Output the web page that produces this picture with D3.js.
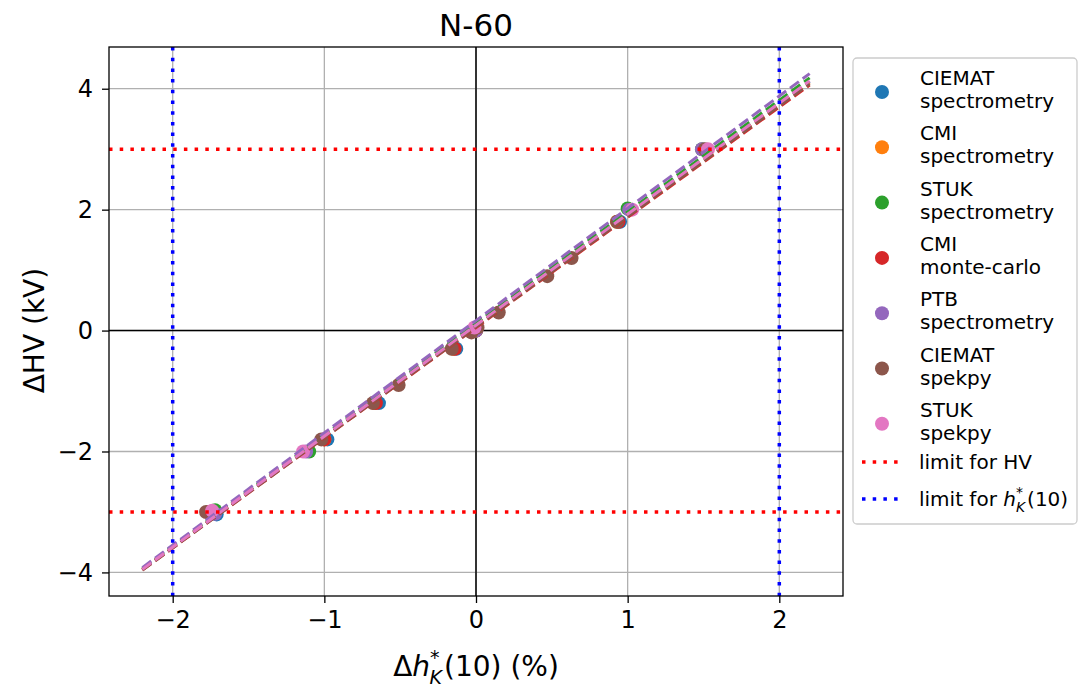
<!DOCTYPE html>
<html>
<head>
<meta charset="utf-8">
<script src="https://cdn.jsdelivr.net/npm/d3@7"></script>
<style>
  body { margin: 0; background: white; }
  text { font-family: "DejaVu Sans", sans-serif; fill: #000; }
</style>
</head>
<body>
<svg id="chart" width="1083" height="688"></svg>
<script>
// series names and colours
var seriesNames = [["CIEMAT", "spectrometry"], ["CMI", "spectrometry"], ["STUK", "spectrometry"],
                   ["CMI", "monte-carlo"], ["PTB", "spectrometry"], ["CIEMAT", "spekpy"], ["STUK", "spekpy"]];
var seriesColors = ["#1f77b4", "#ff7f0e", "#2ca02c", "#d62728", "#9467bd", "#8c564b", "#e377c2"];

// measured points: x = delta h*K(10) (%), y = delta HV (kV)
var ciematSpecX = [-1.71, -0.98, -0.64, -0.13, 0.0, 0.95];
var ciematSpecY = [-3.04, -1.8, -1.2, -0.3, 0.0, 1.8];
var cmiSpecX = [-1.75, -1.0, -0.67, -0.15, 0.0, 0.93];
var cmiSpecY = [-3.0, -1.8, -1.2, -0.3, 0.0, 1.8];
var stukSpecX = [-1.72, -1.1, 0.0, 1.0, 1.49];
var stukSpecY = [-2.97, -2.0, 0.0, 2.02, 3.0];
var cmiMcX = [-1.76, -1.0, -0.66, -0.14, 0.0, 0.94];
var cmiMcY = [-3.0, -1.8, -1.2, -0.3, 0.0, 1.8];
var ptbSpecX = [-1.72, -1.12, 0.0, 1.01, 1.49];
var ptbSpecY = [-3.03, -2.0, 0.0, 2.0, 3.0];
var ciematSpekX = [-1.78, -1.02, -0.68, -0.51, -0.16, -0.03, 0.01, 0.15, 0.47, 0.63, 0.93, 1.51];
var ciematSpekY = [-3.0, -1.8, -1.2, -0.9, -0.3, -0.03, 0.05, 0.3, 0.9, 1.2, 1.8, 3.0];
var stukSpekX = [-1.74, -1.14, -0.01, 1.03, 1.53];
var stukSpekY = [-2.98, -2.0, 0.05, 2.0, 3.0];

var pointsX = [ciematSpecX, cmiSpecX, stukSpecX, cmiMcX, ptbSpecX, ciematSpekX, stukSpekX];
var pointsY = [ciematSpecY, cmiSpecY, stukSpecY, cmiMcY, ptbSpecY, ciematSpekY, stukSpekY];

// linear fits, value of delta HV at the ends of the fit range
var fitRange = [-2.2, 2.2];
var fitStart = [-3.95, -3.95, -3.94, -3.96, -3.92, -3.96, -3.95];
var fitEnd = [4.12, 4.1, 4.18, 4.06, 4.25, 4.08, 4.13];

// limits
var hvLimits = [-3, 3];
var doseLimits = [-2, 2];

var xTicks = [-2, -1, 0, 1, 2];
var yTicks = [-4, -2, 0, 2, 4];

var svg = d3.select("#chart");
var pLeft = 109, pRight = 843, pTop = 47, pBottom = 596;

var x = d3.scaleLinear().domain([-2.42, 2.42]).range([pLeft, pRight]);
var y = d3.scaleLinear().domain([-4.39, 4.69]).range([pBottom, pTop]);

var fmt = function(d) { return d < 0 ? "\u2212" + Math.abs(d) : d; };

var plot = svg.append("g");
plot.append("clipPath").attr("id", "clip")
  .append("rect").attr("x", pLeft).attr("y", pTop).attr("width", pRight - pLeft).attr("height", pBottom - pTop);

// grid
plot.append("g").selectAll("line").data(xTicks).join("line")
  .attr("x1", d => x(d)).attr("x2", d => x(d)).attr("y1", pTop).attr("y2", pBottom)
  .attr("stroke", "#b0b0b0").attr("stroke-width", 1.3);
plot.append("g").selectAll("line").data(yTicks).join("line")
  .attr("y1", d => y(d)).attr("y2", d => y(d)).attr("x1", pLeft).attr("x2", pRight)
  .attr("stroke", "#b0b0b0").attr("stroke-width", 1.3);

// zero lines
plot.append("line").attr("x1", x(0)).attr("x2", x(0)).attr("y1", pTop).attr("y2", pBottom)
  .attr("stroke", "#000").attr("stroke-width", 1.5);
plot.append("line").attr("y1", y(0)).attr("y2", y(0)).attr("x1", pLeft).attr("x2", pRight)
  .attr("stroke", "#000").attr("stroke-width", 1.5);

// scatter points
var body = plot.append("g").attr("clip-path", "url(#clip)");
seriesColors.forEach(function(c, i) {
  body.append("g").selectAll("circle").data(d3.range(pointsX[i].length)).join("circle")
    .attr("cx", j => x(pointsX[i][j])).attr("cy", j => y(pointsY[i][j]))
    .attr("r", 7).attr("fill", c);
});

// fit lines
var line = d3.line().x(d => x(d[0])).y(d => y(d[1]));
seriesColors.forEach(function(c, i) {
  body.append("path")
    .attr("d", line([[fitRange[0], fitStart[i]], [fitRange[1], fitEnd[i]]]))
    .attr("fill", "none").attr("stroke", c).attr("stroke-width", 3)
    .attr("stroke-dasharray", "11,4.8");
});

// limit lines
body.selectAll(".hv").data(hvLimits).join("line")
  .attr("x1", pLeft).attr("x2", pRight).attr("y1", d => y(d)).attr("y2", d => y(d))
  .attr("stroke", "#ff0000").attr("stroke-width", 3.5).attr("stroke-dasharray", "3.5,7.2");
body.selectAll(".dose").data(doseLimits).join("line")
  .attr("y1", pTop).attr("y2", pBottom).attr("x1", d => x(d)).attr("x2", d => x(d))
  .attr("stroke", "#0000ff").attr("stroke-width", 3.5).attr("stroke-dasharray", "3.5,7.2");

// frame
plot.append("rect").attr("x", pLeft).attr("y", pTop).attr("width", pRight - pLeft).attr("height", pBottom - pTop)
  .attr("fill", "none").attr("stroke", "#000").attr("stroke-width", 1.3);

// axes
var xAxis = svg.append("g").attr("transform", "translate(0," + pBottom + ")")
  .call(d3.axisBottom(x).tickValues(xTicks).tickFormat(fmt).tickSize(7).tickPadding(8));
var yAxis = svg.append("g").attr("transform", "translate(" + pLeft + ",0)")
  .call(d3.axisLeft(y).tickValues(yTicks).tickFormat(fmt).tickSize(7).tickPadding(9));
[xAxis, yAxis].forEach(function(a) {
  a.select(".domain").remove();
  a.selectAll(".tick line").attr("stroke", "#000").attr("stroke-width", 1.3);
  a.selectAll(".tick text").style("font-family", "DejaVu Sans").style("font-size", "24px").attr("fill", "#000");
});

// title
svg.append("text").attr("x", (pLeft + pRight) / 2).attr("y", 36).attr("text-anchor", "middle")
  .style("font-size", "31px").text("N-60");

// x label
var xl = svg.append("text").attr("x", (pLeft + pRight) / 2).attr("y", 676).attr("text-anchor", "middle")
  .style("font-size", "28px");
xl.append("tspan").text("\u0394");
xl.append("tspan").style("font-style", "italic").text("h");
xl.append("tspan").attr("dy", -12).style("font-size", "19px").text("*");
xl.append("tspan").attr("dy", 20).attr("dx", -10).style("font-size", "19px").style("font-style", "italic").text("K");
xl.append("tspan").attr("dy", -8).attr("dx", 2).text("(10) (%)");

// y label
svg.append("text").attr("transform", "translate(44," + y(0) + ") rotate(-90)")
  .attr("text-anchor", "middle").style("font-size", "28px").text("\u0394HV (kV)");

// legend
var lg = svg.append("g");
lg.append("rect").attr("x", 853).attr("y", 58).attr("width", 224).attr("height", 466).attr("rx", 4)
  .attr("fill", "white").attr("fill-opacity", 0.8).attr("stroke", "#cccccc").attr("stroke-width", 1.3);
seriesNames.forEach(function(n, i) {
  var cy = 92 + i * 55.3;
  lg.append("circle").attr("cx", 882).attr("cy", cy).attr("r", 7).attr("fill", seriesColors[i]);
  lg.append("text").attr("x", 920).attr("y", cy - 7).style("font-size", "20px").text(n[0]);
  lg.append("text").attr("x", 920).attr("y", cy + 16).style("font-size", "20px").text(n[1]);
});
var limitItems = [["#ff0000", "limit for HV"], ["#0000ff", null]];
limitItems.forEach(function(it, i) {
  var cy = 462 + i * 37;
  lg.append("line").attr("x1", 862).attr("x2", 902).attr("y1", cy).attr("y2", cy)
    .attr("stroke", it[0]).attr("stroke-width", 3.5).attr("stroke-dasharray", "3.5,7.2");
  var t = lg.append("text").attr("x", 919).attr("y", cy + 7).style("font-size", "20px");
  if (it[1]) t.text(it[1]);
  else {
    t.append("tspan").text("limit for ");
    t.append("tspan").style("font-style", "italic").text("h");
    t.append("tspan").attr("dy", -9).style("font-size", "14px").text("*");
    t.append("tspan").attr("dy", 15).attr("dx", -7).style("font-size", "14px").style("font-style", "italic").text("K");
    t.append("tspan").attr("dy", -6).attr("dx", 2).text("(10)");
  }
});
</script>
</body>
</html>
